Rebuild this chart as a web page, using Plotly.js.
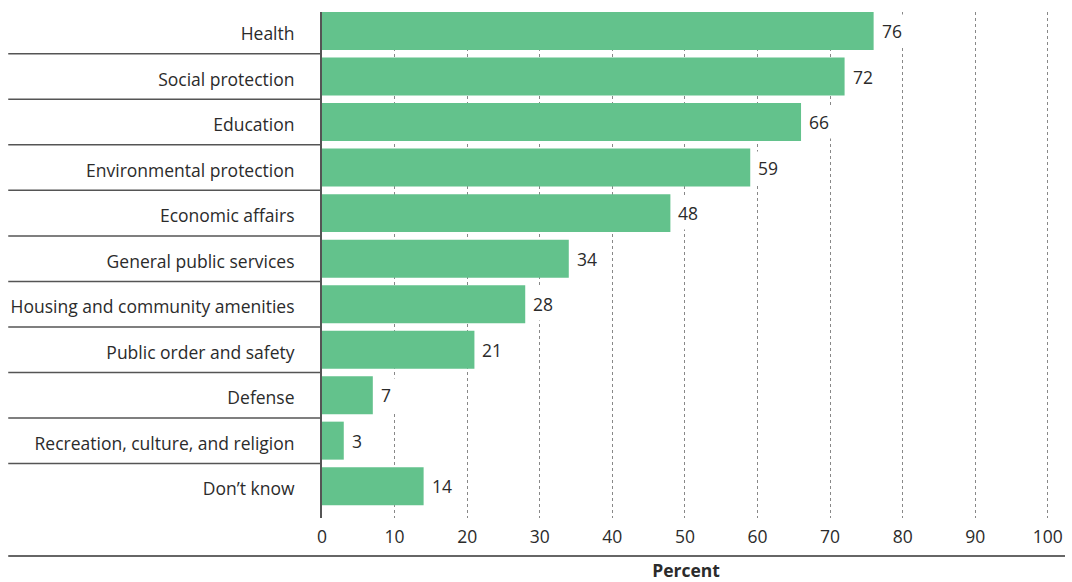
<!DOCTYPE html>
<html>
<head>
<meta charset="utf-8">
<script src="https://cdn.plot.ly/plotly-3.0.1.min.js"></script>
<style>html,body{margin:0;padding:0;background:#fff;}#chart{width:1072px;height:582px;}</style>
</head>
<body>
<div id="chart"></div>
<script>
const categories = ["Health","Social protection","Education","Environmental protection","Economic affairs","General public services","Housing and community amenities","Public order and safety","Defense","Recreation, culture, and religion","Don\u2019t know"];
const percents = [76,72,66,59,48,34,28,21,7,3,14];
const xTicks = [0,10,20,30,40,50,60,70,80,90,100];
const xTitle = "Percent";

const FONT = "'Open Sans', Roboto, sans-serif";
const TXT = "#2b2b2b";
const FS = 17.5;

const trace = {
  type: "bar",
  orientation: "h",
  y: categories,
  x: percents,
  marker: {color: "#63c28c"},
  hoverinfo: "none"
};

const annotations = categories.map((c, i) => ({
  x: percents[i], y: c, xref: "x", yref: "y",
  text: String(percents[i]), showarrow: false,
  xanchor: "left", xshift: 3,
  bgcolor: "#ffffff", borderpad: 4,
  font: {family: FONT, size: FS, color: TXT}
}));

const shapes = [];
for (let i = 0; i < categories.length - 1; i++) {
  shapes.push({type: "line", xref: "paper", yref: "y", x0: -0.431, x1: 0, y0: i + 0.5, y1: i + 0.5,
    line: {color: "#555555", width: 1.5}});
}
shapes.push({type: "line", xref: "paper", yref: "paper", x0: -0.431, x1: 1.0206, y0: -0.075, y1: -0.075,
  line: {color: "#333333", width: 1.5}});

const layout = {
  width: 1072, height: 582,
  margin: {l: 322, r: 22, t: 12, b: 64},
  paper_bgcolor: "#fff", plot_bgcolor: "#fff",
  showlegend: false,
  bargap: 0.165,
  font: {family: FONT, size: FS, color: TXT},
  xaxis: {
    range: [0, 100.3],
    tickvals: xTicks,
    ticktext: xTicks.map(String),
    showgrid: true, gridcolor: "#888888", griddash: "dot", gridwidth: 1,
    zeroline: false, showline: false, ticks: "",
    ticklabelstandoff: 6,
    tickfont: {family: FONT, size: FS, color: TXT},
    title: {text: "<b>" + xTitle + "</b>", font: {family: FONT, size: FS, color: TXT}, standoff: 19}
  },
  yaxis: {
    type: "category",
    range: [10.70, -0.42],
    showgrid: false, zeroline: false,
    showline: true, linecolor: "#555555", linewidth: 2,
    ticks: "", ticklabelstandoff: 22, ticklabelshift: -3,
    tickfont: {family: FONT, size: FS, color: TXT}
  },
  annotations: annotations,
  shapes: shapes
};

Plotly.newPlot("chart", [trace], layout, {displayModeBar: false, staticPlot: true});
</script>
</body>
</html>
